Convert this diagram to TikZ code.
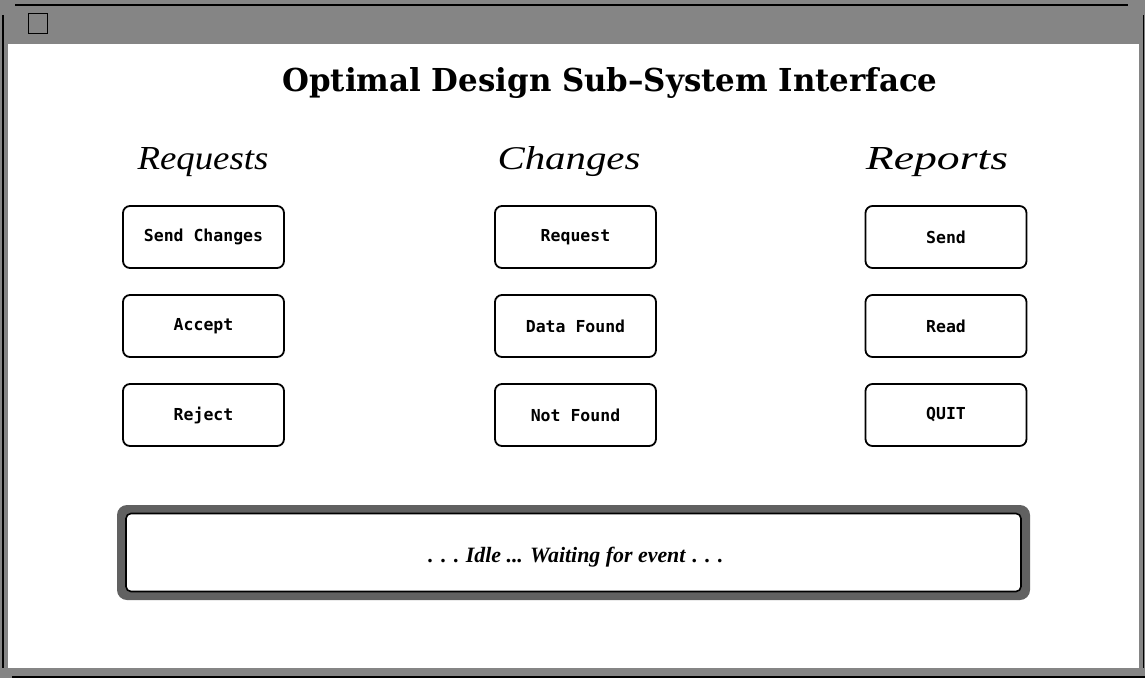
\documentclass[tikz,border=0pt]{standalone}
\usepackage{fontspec}
\usepackage{graphicx}
\setmainfont{Liberation Serif}
\newfontfamily\titlefont{DejaVu Serif}
\newfontfamily\btnfont{DejaVu Sans Mono}

\definecolor{framegray}{gray}{0.52}
\definecolor{ringgray}{gray}{0.38}

\tikzset{
  btn/.style={draw, line width=1.8pt, rounded corners=7pt, fill=white,
    minimum width=161pt, minimum height=62pt, inner sep=0pt,
    font=\btnfont\bfseries\fontsize{16.5}{18}\selectfont},
  heading/.style={anchor=base, inner sep=0pt},
  edge/.style={line width=2pt, black}
}

\begin{document}
\begin{tikzpicture}[x=1pt, y=-1pt]
  \useasboundingbox (0,0) rectangle (1145,678);

  % window frame: dithered border and title bar
  \fill[framegray] (0,0) rectangle (1145,678);
  \fill[white] (8,44) rectangle (1139,668);
  \draw[edge] (15,5) -- (1128,5);
  \draw[edge] (3,15) -- (3,668);
  \draw[edge] (12,677) -- (1145,677);
  \draw[line width=1pt] (1143,15) -- (1143,668);

  % window menu box
  \node[draw, line width=1pt, minimum width=19pt, minimum height=20pt, inner sep=0pt]
    (menu) at (37.5,23) {};

  % title
  \node[heading] (title) at (610,91)
    {\resizebox{655pt}{24pt}{\titlefont\bfseries Optimal Design Sub\textendash System Interface}};

  % column headings
  \node[heading] (hreq) at (203,169) {\resizebox{131pt}{22pt}{\itshape Requests}};
  \node[heading] (hchg) at (569,169) {\resizebox{143pt}{23pt}{\itshape Changes}};
  \node[heading] (hrep) at (937,169) {\resizebox{142pt}{22pt}{\itshape Reports}};

  % buttons
  \node[btn] (sendch)  at (203.5,237) {Send Changes};
  \node[btn] (accept)  at (203.5,326) {Accept};
  \node[btn] (reject)  at (203.5,415) {Reject};

  \node[btn] (request) at (575.5,237) {Request};
  \node[btn] (found)   at (575.5,326) {Data Found};
  \node[btn] (notfnd)  at (575.5,415) {Not Found};

  \node[btn] (send)    at (946,237) {Send};
  \node[btn] (read)    at (946,326) {Read};
  \node[btn] (quit)    at (946,415) {QUIT};

  % status bar
  \node[fill=ringgray, rounded corners=10pt, minimum width=913pt, minimum height=95pt,
    inner sep=0pt] (ring) at (573.5,552.5) {};
  \node[draw, line width=1.6pt, fill=white, rounded corners=5pt, minimum width=895pt,
    minimum height=78pt, inner sep=0pt] (statusbar) at (573.5,552.5) {};
  \node[heading] (status) at (575,562)
    {\resizebox{295pt}{!}{\fontsize{16}{18}\selectfont\bfseries . . . \textit{Idle ... Waiting for event} . . .}};
\end{tikzpicture}
\end{document}
